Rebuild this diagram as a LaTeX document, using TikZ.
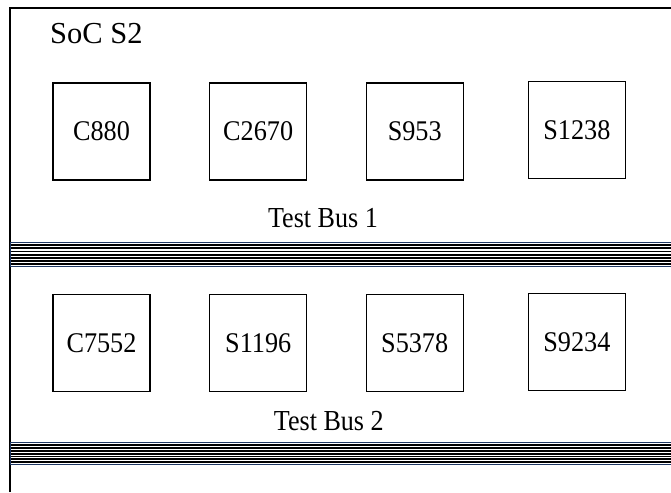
\documentclass[tikz,border=0pt]{standalone}
\usepackage{fontspec}
\usepackage{graphicx}
\setmainfont{Liberation Serif}
\definecolor{busedge}{HTML}{1F3864}
\tikzset{
  x=1pt, y=-1pt,
  frameline/.style={line width=2pt, black},
  corebox/.style={draw=black, line width=1.4pt, minimum width=97pt, minimum height=97pt, inner sep=0pt},
  corelabel/.style={font=\fontsize{28.5}{32}\selectfont, anchor=base, inner sep=0pt},
  buslabel/.style={font=\fontsize{29}{32}\selectfont, anchor=base, inner sep=0pt},
  title/.style={font=\fontsize{30.5}{34}\selectfont, anchor=base west, inner sep=0pt},
}
% narrow setting of the serif labels
\newcommand{\narrow}[1]{\scalebox{0.92}[1]{#1}}
% a striped bus bar: #1 = top edge, #2 = bottom edge
\newcommand{\busbar}[2]{%
  \fill[white] (10,#1) rectangle (671,#2);
  \foreach \k in {0,...,6}{
    \fill[black] (10,{#1+1.6+\k*(#2-#1-3.4)/6.5}) rectangle (671,{#1+1.6+\k*(#2-#1-3.4)/6.5+1.8});
  }
  \draw[busedge, line width=1pt] (671,#1) -- (10,#1) -- (10,#2) -- (671,#2);
}
\begin{document}
\begin{tikzpicture}
\useasboundingbox (0,0) rectangle (671,492);
\fill[white] (0,0) rectangle (671,492);

% outer SoC frame (open to the right and below)
\draw[frameline] (10,492) -- (10,8.3) -- (671,8.3);
\node[title] (soc) at (50,43.3) {SoC S2};

% cores on test bus 1
\node[corebox] (c880)  at (101.5,131.5) {};
\node[corebox] (c2670) at (258.2,131.5) {};
\node[corebox] (s953)  at (414.7,131.5) {};
\node[corebox] (s1238) at (576.9,130) {};
\node[corelabel] (l880)  at ([yshift=-9.3pt]c880.center)  {\narrow{C880}};
\node[corelabel] (l2670) at ([yshift=-9.3pt]c2670.center) {\narrow{C2670}};
\node[corelabel] (l953)  at ([yshift=-9.3pt]s953.center)  {\narrow{S953}};
\node[corelabel] (l1238) at ([yshift=-9.3pt]s1238.center) {\narrow{S1238}};
\node[buslabel] (tb1) at (323,227.7) {\scalebox{0.9}[1]{Test Bus 1}};
\busbar{242.7}{266.7}

% cores on test bus 2
\node[corebox] (c7552) at (101.5,343.2) {};
\node[corebox] (s1196) at (258.2,343.2) {};
\node[corebox] (s5378) at (414.7,343.2) {};
\node[corebox] (s9234) at (576.9,341.7) {};
\node[corelabel] (l7552) at ([yshift=-9.3pt]c7552.center) {\narrow{C7552}};
\node[corelabel] (l1196) at ([yshift=-9.3pt]s1196.center) {\narrow{S1196}};
\node[corelabel] (l5378) at ([yshift=-9.3pt]s5378.center) {\narrow{S5378}};
\node[corelabel] (l9234) at ([yshift=-9.3pt]s9234.center) {\narrow{S9234}};
\node[buslabel] (tb2) at (328.8,430) {\scalebox{0.9}[1]{Test Bus 2}};
\busbar{442.7}{464.5}
\end{tikzpicture}
\end{document}
